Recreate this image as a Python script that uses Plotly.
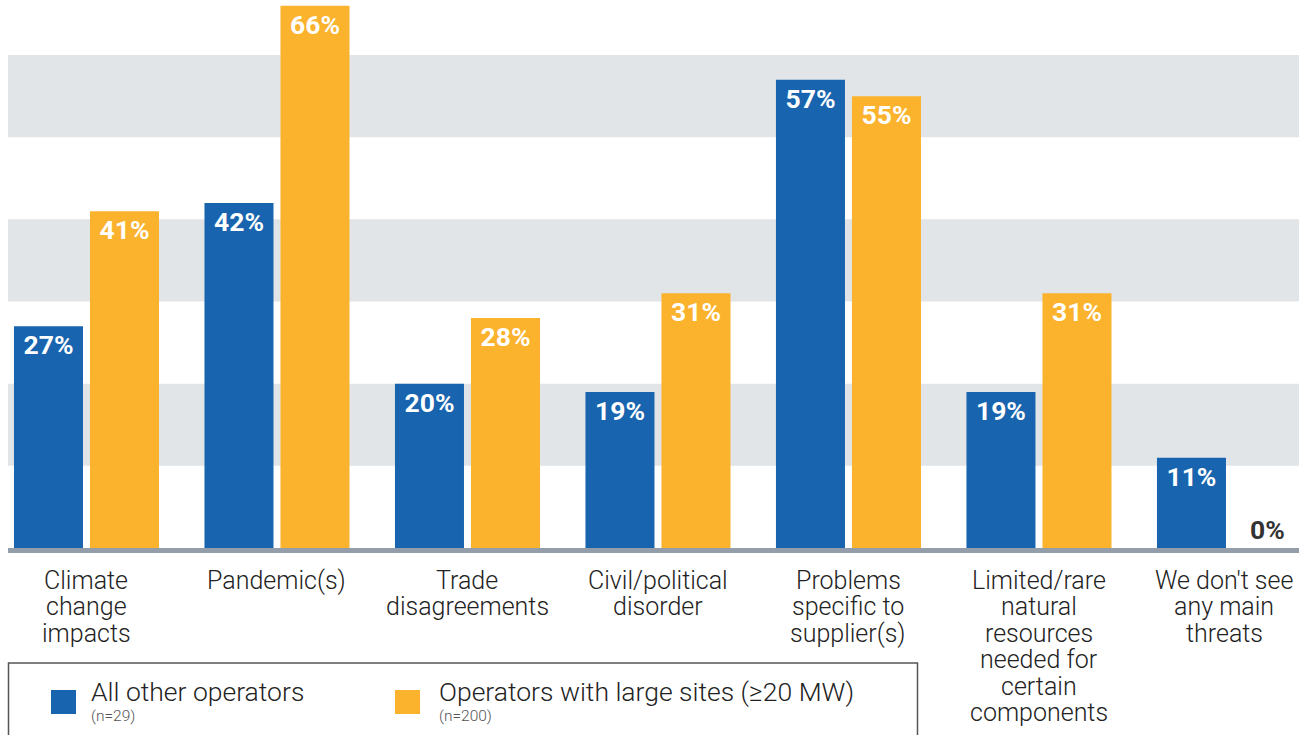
import plotly.graph_objects as go

categories = ["Climate<br>change<br>impacts", "Pandemic(s)", "Trade<br>disagreements",
              "Civil/political<br>disorder", "Problems<br>specific to<br>supplier(s)",
              "Limited/rare<br>natural<br>resources<br>needed for<br>certain<br>components",
              "We don't see<br>any main<br>threats"]
all_other = [27, 42, 20, 19, 57, 19, 11]
large_sites = [41, 66, 28, 31, 55, 31, 0]
series_names = ["All other operators", "Operators with large sites (≥20 MW)"]
series_n = ["(n=29)", "(n=200)"]
colors = ["#1864ae", "#fbb22d"]

W, H = 1299, 735
ML, MR, MT, MB = 8, 0, 0, 187
PW, PH = W - ML - MR, H - MT - MB


def px_x(px):
    return (px - ML) / PW


def px_y(py):
    return (H - MB - py) / PH


FONT = "Roboto"
fig = go.Figure()
xs = list(range(len(categories)))
for vals, name, col in zip([all_other, large_sites], series_names, colors):
    fig.add_trace(go.Bar(
        x=xs, y=vals, name=name, marker=dict(color=col, line=dict(width=0)),
        text=[f"{v}%" for v in vals],
        textposition=["outside" if v == 0 else "inside" for v in vals],
        insidetextanchor="end", textangle=0, constraintext="none",
        insidetextfont=dict(family=FONT, size=26.5, color="white", weight=700),
        outsidetextfont=dict(family=FONT, size=26.5, color="#333333", weight=700),
        cliponaxis=False, showlegend=False,
    ))

shapes = []
for lo in [10, 30, 50]:
    shapes.append(dict(type="rect", xref="paper", yref="y", x0=0, x1=1, y0=lo, y1=lo + 10,
                       fillcolor="#e1e5e8", line=dict(width=0), layer="below"))

# legend box
shapes.append(dict(type="rect", xref="paper", yref="paper",
                   x0=px_x(8.5), x1=px_x(917.5), y0=px_y(760), y1=px_y(663),
                   line=dict(color="#555555", width=1.5), fillcolor="rgba(0,0,0,0)"))

annotations = []
# category labels, line by line
for i, lab in enumerate(categories):
    shift = -5 if i == len(categories) - 1 else 0
    for k, line in enumerate(lab.split("<br>")):
        annotations.append(dict(x=i, xref="x", y=px_y(580 + 26.5 * k), yref="paper",
                                text=line, showarrow=False, xanchor="center", yanchor="middle",
                                xshift=shift,
                                font=dict(family=FONT, size=25, color="#222222", weight=300)))

# manual legend
leg_sq_x = [51, 395]
leg_txt_x = [89, 437]
for sx, tx, name, n, col in zip(leg_sq_x, leg_txt_x, series_names, series_n, colors):
    shapes.append(dict(type="rect", xref="paper", yref="paper",
                       x0=px_x(sx), x1=px_x(sx + 25), y0=px_y(714), y1=px_y(690),
                       fillcolor=col, line=dict(width=0)))
    annotations.append(dict(x=px_x(tx), y=px_y(691), xref="paper", yref="paper", text=name,
                            showarrow=False, xanchor="left", yanchor="middle",
                            font=dict(family=FONT, size=26.5, color="#222222", weight=300)))
    annotations.append(dict(x=px_x(tx), y=px_y(716), xref="paper", yref="paper", text=n,
                            showarrow=False, xanchor="left", yanchor="middle",
                            font=dict(family=FONT, size=15.5, color="#555555", weight=300)))

fig.update_layout(
    width=W, height=H, margin=dict(l=ML, r=MR, t=MT, b=MB),
    paper_bgcolor="white", plot_bgcolor="white",
    barmode="group", bargap=0.202, bargroupgap=0.092,
    shapes=shapes, annotations=annotations, showlegend=False,
    xaxis=dict(range=[-0.412, 6.365], showticklabels=False, showgrid=False, zeroline=False,
               showline=True, linecolor="#949eab", linewidth=5, ticks=""),
    yaxis=dict(range=[0, 66.7], showticklabels=False, showgrid=False, zeroline=False,
               showline=False, ticks=""),
    font=dict(family=FONT),
)

fig.write_html("out.html", config={"displayModeBar": False},
               post_script="document.body.style.margin='0';document.body.style.overflow='hidden';")
